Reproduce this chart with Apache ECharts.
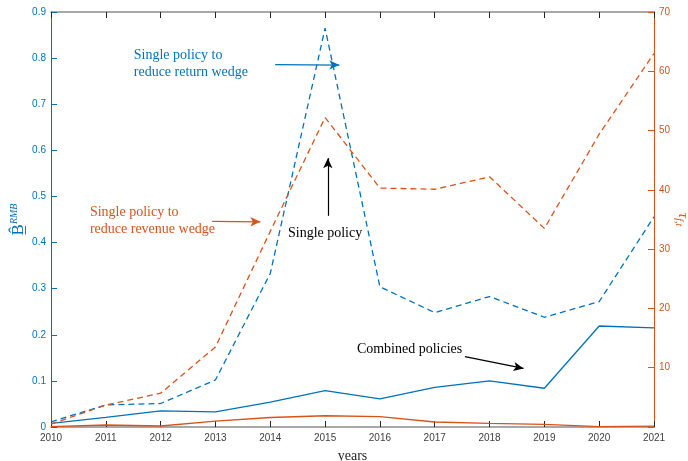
<!DOCTYPE html>
<html>
<head>
<meta charset="utf-8">
<script src="https://cdn.jsdelivr.net/npm/echarts@6/dist/echarts.min.js"></script>
<style>html,body{margin:0;padding:0;background:#fff;}#c{width:688px;height:461px;}</style>
</head>
<body>
<div id="c"></div>
<script>
const years = [2010,2011,2012,2013,2014,2015,2016,2017,2018,2019,2020,2021];
// left axis (B^RMB)
const combinedB = [0.008,0.021,0.035,0.033,0.054,0.079,0.061,0.086,0.100,0.084,0.219,0.215];
const singleReturnB = [0.011,0.048,0.051,0.102,0.333,0.865,0.304,0.248,0.283,0.238,0.272,0.456];
// right axis (tau)
const singleRevenueTau = [0.5,3.7,5.7,13.5,33.0,52.2,40.3,40.1,42.2,33.5,49.4,63.0];
const combinedTau = [0.05,0.34,0.17,1.0,1.6,1.9,1.74,0.84,0.62,0.45,0.05,0.15];
const leftTicks = {min:0, max:0.9, interval:0.1};
const rightTicks = {min:0, max:70, interval:10};

const BLUE = '#0072BD', ORANGE = '#D95319';
const pair = a => years.map((y,i)=>[y,a[i]]);
const serif = '"Liberation Serif","Times New Roman",serif';
const sans = '"Liberation Sans",Arial,sans-serif';

const chart = echarts.init(document.getElementById('c'), null, {renderer:'canvas'});
const arrow = (from, to, color) => [{coord:from, lineStyle:{color:color, width:1.2, type:'solid'}}, {coord:to}];

chart.setOption({
  animation:false,
  backgroundColor:'#fff',
  grid:{left:51, right:34, top:12, bottom:34, containLabel:false, outerBoundsMode:'none'},
  xAxis:[{
    type:'value', min:2010, max:2021, interval:1, position:'bottom',
    name:'years', nameLocation:'middle', nameGap:22, nameMoveOverlap:false,
    nameTextStyle:{fontFamily:serif, fontSize:14, color:'#262626'},
    axisLine:{show:true, onZero:false, lineStyle:{color:'#8c8c8c', width:1.5}},
    axisTick:{show:true, inside:true, length:6, lineStyle:{color:'#262626'}},
    axisLabel:{formatter:v=>String(v), fontFamily:sans, fontSize:10, color:'#404040', margin:6},
    splitLine:{show:false}
  },{
    type:'value', min:2010, max:2021, interval:1, position:'top',
    axisLine:{show:true, onZero:false, lineStyle:{color:'#8c8c8c', width:1.5}},
    axisTick:{show:true, inside:true, length:6, lineStyle:{color:'#262626'}},
    axisLabel:{show:false}, splitLine:{show:false}
  }],
  yAxis:[{
    type:'value', position:'left', min:leftTicks.min, max:leftTicks.max, interval:leftTicks.interval,
    name:'{b|B\u0332\u0302}{sup|RMB}', nameLocation:'middle', nameGap:22, nameRotate:90, nameMoveOverlap:false,
    nameTextStyle:{color:BLUE, rich:{
      b:{fontFamily:serif, fontSize:17, color:BLUE, lineHeight:20},
      sup:{fontFamily:serif, fontStyle:'italic', fontSize:10, color:BLUE, verticalAlign:'top', lineHeight:20}
    }},
    axisLine:{show:true, onZero:false, lineStyle:{color:BLUE, width:1}},
    axisTick:{show:true, inside:true, length:6, lineStyle:{color:BLUE}},
    axisLabel:{fontFamily:sans, fontSize:10, color:BLUE, margin:5},
    splitLine:{show:false}
  },{
    type:'value', position:'right', min:rightTicks.min, max:rightTicks.max, interval:rightTicks.interval,
    name:'{t|\u03C4}{sub|f,t}', nameLocation:'middle', nameGap:20, nameRotate:-90, nameMoveOverlap:false,
    nameTextStyle:{color:ORANGE, rich:{
      t:{fontFamily:serif, fontStyle:'italic', fontSize:15, color:ORANGE, lineHeight:18},
      sub:{fontFamily:serif, fontStyle:'italic', fontSize:10, color:ORANGE, verticalAlign:'bottom', lineHeight:18}
    }},
    axisLine:{show:true, onZero:false, lineStyle:{color:ORANGE, width:1}},
    axisTick:{show:true, inside:true, length:6, lineStyle:{color:ORANGE}},
    axisLabel:{fontFamily:sans, fontSize:10, color:ORANGE, margin:5, formatter:v=>v===0?'':String(v)},
    splitLine:{show:false}
  }],
  series:[{
    name:'combinedB', type:'line', xAxisIndex:0, yAxisIndex:0, data:pair(combinedB),
    symbol:'none', lineStyle:{color:BLUE, width:1.3}, itemStyle:{color:BLUE},
    markLine:{silent:true, symbol:['none','arrow'], symbolSize:[7,10], label:{show:false}, animation:false,
      data:[
        arrow([2014.09,0.786],[2015.26,0.785], BLUE),
        arrow([2015.05,0.458],[2015.05,0.583], '#000'),
        arrow([2017.55,0.1525],[2018.62,0.127], '#000')
      ]}
  },{
    name:'singleReturnB', type:'line', xAxisIndex:0, yAxisIndex:0, data:pair(singleReturnB),
    symbol:'none', lineStyle:{color:BLUE, width:1.3, type:[6,4]}, itemStyle:{color:BLUE}
  },{
    name:'singleRevenueTau', type:'line', xAxisIndex:0, yAxisIndex:1, data:pair(singleRevenueTau),
    symbol:'none', lineStyle:{color:ORANGE, width:1.3, type:[6,4]}, itemStyle:{color:ORANGE},
    markLine:{silent:true, symbol:['none','arrow'], symbolSize:[7,10], label:{show:false}, animation:false,
      data:[ arrow([2012.94,34.7],[2013.82,34.6], ORANGE) ]}
  },{
    name:'combinedTau', type:'line', xAxisIndex:0, yAxisIndex:1, data:pair(combinedTau),
    symbol:'none', lineStyle:{color:ORANGE, width:1.3}, itemStyle:{color:ORANGE}
  }]
});

// annotations placed in data space, converted through the chart's scales
const P = (x,y,yi) => chart.convertToPixel({xAxisIndex:0, yAxisIndex:yi}, [x,y]);
const notes = [
  {at:[2011.51,0.787,0], text:'Single policy to\nreduce return wedge', color:BLUE, align:'left'},
  {at:[2010.71,34.7,1], text:'Single policy to\nreduce revenue wedge', color:ORANGE, align:'left'},
  {at:[2015.0,0.421,0], text:'Single policy', color:'#000', align:'center'},
  {at:[2015.58,0.169,0], text:'Combined policies', color:'#000', align:'left'}
];
chart.setOption({graphic: notes.map(n => {
  const p = P(n.at[0], n.at[1], n.at[2]);
  return {type:'text', x:p[0], y:p[1], silent:true, style:{
    text:n.text, fill:n.color, font:'14px ' + serif, align:n.align, verticalAlign:'middle', lineHeight:17
  }};
})});
</script>
</body>
</html>
